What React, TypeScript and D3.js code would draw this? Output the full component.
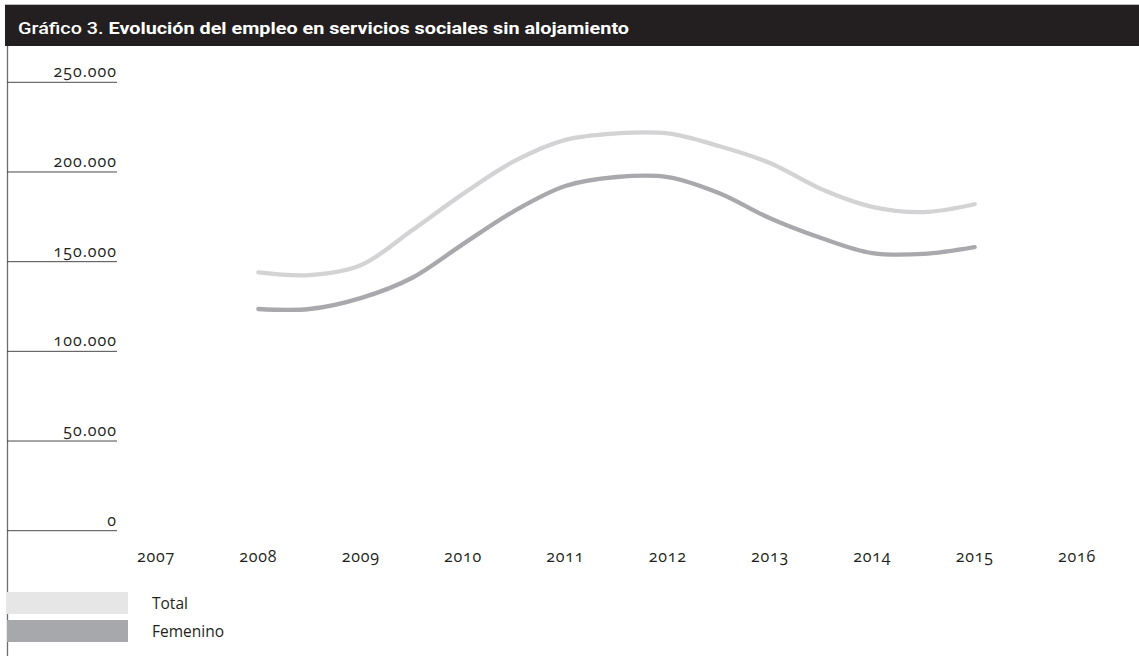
import React from "react";
import * as d3 from "d3";

const title = "Gráfico 3. Evolución del empleo en servicios sociales sin alojamiento";
const yearTicks = [2007, 2008, 2009, 2010, 2011, 2012, 2013, 2014, 2015, 2016];
const valueTicks = [0, 50000, 100000, 150000, 200000, 250000];
const seriesNames = ["Total", "Femenino"];
const years = [2008, 2008.5, 2009, 2009.5, 2010, 2010.5, 2011, 2011.5, 2012, 2012.5, 2013, 2013.5, 2014, 2014.5, 2015];
const totalValues = [144000, 142500, 148000, 167400, 187800, 206000, 217900, 221500, 221500, 214500, 205000, 190500, 180500, 177600, 182000];
const femeninoValues = [123600, 123600, 129700, 140900, 159800, 178200, 192200, 197200, 197200, 188300, 174200, 163200, 154800, 154300, 158100];

const lineColors = ["#d3d3d5", "#a9a9ad"];
const swatchColors = ["#e6e6e7", "#a7a8ab"];

export default function App() {
  const W = 1139;
  const H = 656;
  const x = d3.scaleLinear().domain([2007, 2016]).range([156, 1077]);
  const y = d3.scaleLinear().domain([0, 250000]).range([530.7, 82.3]);
  const fmt = (v: number) => (v === 0 ? "0" : d3.format(",")(v).replace(/,/g, "."));
  const line = d3
    .line<[number, number]>()
    .x((d) => x(d[0]))
    .y((d) => y(d[1]))
    .curve(d3.curveCatmullRom.alpha(0.5));
  const series = [totalValues, femeninoValues].map((vals) =>
    years.map((yr, i) => [yr, vals[i]] as [number, number])
  );
  const font = "'Open Sans', 'DejaVu Sans', sans-serif";
  const titleParts = title.split(". ");
  return (
    <div style={{ position: "absolute", left: 0, top: 0 }}>
      <svg width={W} height={H} style={{ display: "block", background: "#fff" }}>
        <rect x={5} y={4} width={W - 5} height={1} fill="#bdbdbd" />
        <rect x={5} y={5} width={W - 5} height={41} fill="#231f20" />
        <text
          x={18}
          y={34}
          fill="#fff"
          fontFamily="Roboto, 'Open Sans', sans-serif"
          fontWeight={700}
          fontSize={17}
          textLength={611}
          lengthAdjust="spacingAndGlyphs"
        >
          <tspan fontWeight={500}>{titleParts[0] + "."}</tspan> {titleParts[1]}
        </text>
        <line x1={7.5} x2={7.5} y1={46} y2={H} stroke="#6d6d6d" strokeWidth={1.3} />
        {valueTicks.map((v) => (
          <g key={v}>
            <line x1={7} x2={117} y1={y(v)} y2={y(v)} stroke="#4a4a4a" strokeWidth={1} />
            <text
              x={117}
              y={y(v) - 5}
              textAnchor="end"
              fontFamily={font}
              fontSize={16}
              letterSpacing={1}
              fill="#231f20"
              style={{ fontVariantNumeric: "oldstyle-nums" }}
            >
              {fmt(v)}
            </text>
          </g>
        ))}
        {yearTicks.map((yr) => (
          <text
            key={yr}
            x={x(yr)}
            y={562}
            textAnchor="middle"
            fontFamily={font}
            fontSize={16}
            letterSpacing={0.8}
            fill="#231f20"
            style={{ fontVariantNumeric: "oldstyle-nums" }}
          >
            {yr}
          </text>
        ))}
        {series.map((pts, i) => (
          <path
            key={seriesNames[i]}
            d={line(pts) || ""}
            fill="none"
            stroke={lineColors[i]}
            strokeWidth={4.3}
            strokeLinecap="round"
            strokeLinejoin="round"
          />
        ))}
        {seriesNames.map((name, i) => (
          <g key={name}>
            <rect x={7} y={592 + i * 28} width={121} height={22} fill={swatchColors[i]} />
            <text x={152} y={609 + i * 28} fontFamily={font} fontSize={15.5} fill="#231f20">
              {name}
            </text>
          </g>
        ))}
      </svg>
    </div>
  );
}
